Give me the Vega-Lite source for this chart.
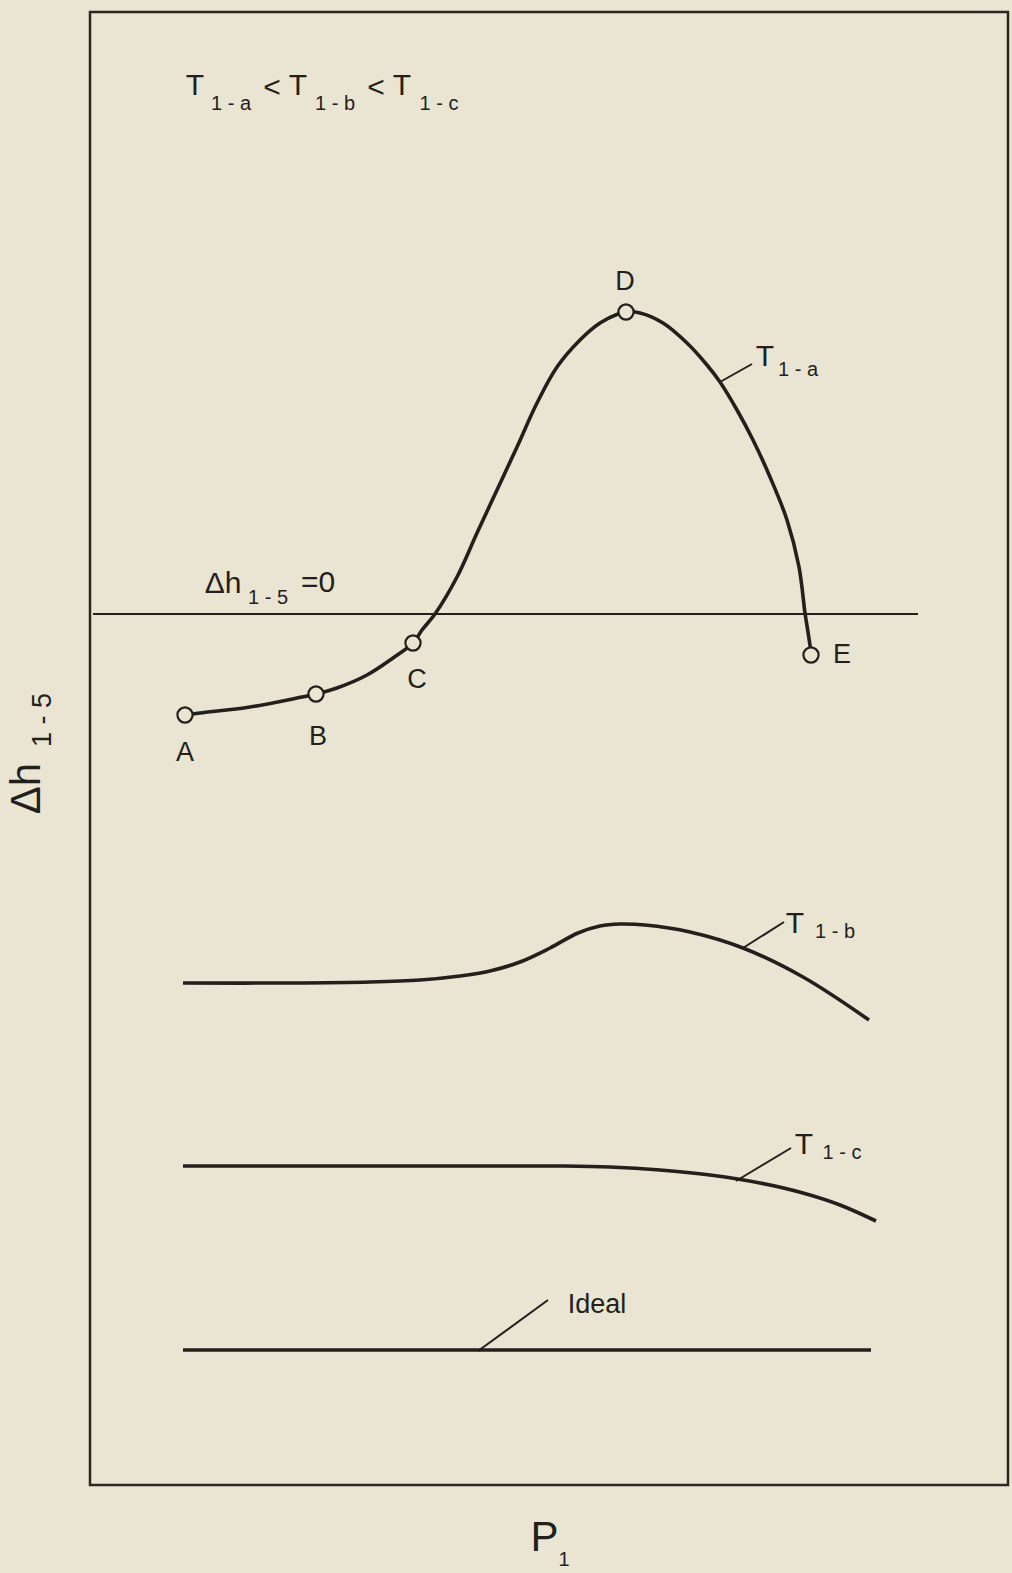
{
  "$schema": "https://vega.github.io/schema/vega-lite/v6.json",
  "width": 918,
  "height": 1473,
  "autosize": {"type": "none"},
  "padding": {"left": 90, "top": 12, "right": 4, "bottom": 88},
  "background": "#eae4d2",
  "config": {
    "view": {"stroke": "#2a2622", "strokeWidth": 2.5},
    "font": "Liberation Sans",
    "axis": {"domain": false, "ticks": false, "labels": false, "grid": false, "titleFont": "Liberation Sans", "titleFontWeight": "normal", "titleColor": "#231f1c", "titleFontSize": 42}
  },
  "datasets": {
    "curves": [
      {"series": "T1-a", "x": 95, "y": -101},
      {"series": "T1-a", "x": 110, "y": -99},
      {"series": "T1-a", "x": 160, "y": -93},
      {"series": "T1-a", "x": 207, "y": -84},
      {"series": "T1-a", "x": 226, "y": -80},
      {"series": "T1-a", "x": 247, "y": -74},
      {"series": "T1-a", "x": 277, "y": -61},
      {"series": "T1-a", "x": 303, "y": -44},
      {"series": "T1-a", "x": 323, "y": -29},
      {"series": "T1-a", "x": 332, "y": -16},
      {"series": "T1-a", "x": 345, "y": 0},
      {"series": "T1-a", "x": 367, "y": 37},
      {"series": "T1-a", "x": 387, "y": 81},
      {"series": "T1-a", "x": 407, "y": 124},
      {"series": "T1-a", "x": 427, "y": 167},
      {"series": "T1-a", "x": 447, "y": 211},
      {"series": "T1-a", "x": 467, "y": 247},
      {"series": "T1-a", "x": 490, "y": 274},
      {"series": "T1-a", "x": 510, "y": 291},
      {"series": "T1-a", "x": 528, "y": 300},
      {"series": "T1-a", "x": 536, "y": 302},
      {"series": "T1-a", "x": 550, "y": 301},
      {"series": "T1-a", "x": 573, "y": 291},
      {"series": "T1-a", "x": 597, "y": 271},
      {"series": "T1-a", "x": 617, "y": 249},
      {"series": "T1-a", "x": 630, "y": 232},
      {"series": "T1-a", "x": 647, "y": 204},
      {"series": "T1-a", "x": 663, "y": 174},
      {"series": "T1-a", "x": 680, "y": 137},
      {"series": "T1-a", "x": 697, "y": 94},
      {"series": "T1-a", "x": 709, "y": 47},
      {"series": "T1-a", "x": 715, "y": 1},
      {"series": "T1-a", "x": 718, "y": -18},
      {"series": "T1-a", "x": 721, "y": -38},
      {"series": "T1-b", "x": 93, "y": -369},
      {"series": "T1-b", "x": 200, "y": -369},
      {"series": "T1-b", "x": 280, "y": -368},
      {"series": "T1-b", "x": 330, "y": -366},
      {"series": "T1-b", "x": 370, "y": -362},
      {"series": "T1-b", "x": 400, "y": -357},
      {"series": "T1-b", "x": 430, "y": -348},
      {"series": "T1-b", "x": 460, "y": -334},
      {"series": "T1-b", "x": 488, "y": -319},
      {"series": "T1-b", "x": 510, "y": -312},
      {"series": "T1-b", "x": 530, "y": -310},
      {"series": "T1-b", "x": 555, "y": -311},
      {"series": "T1-b", "x": 600, "y": -318},
      {"series": "T1-b", "x": 653, "y": -334},
      {"series": "T1-b", "x": 713, "y": -363},
      {"series": "T1-b", "x": 779, "y": -406},
      {"series": "T1-c", "x": 93, "y": -552},
      {"series": "T1-c", "x": 300, "y": -552},
      {"series": "T1-c", "x": 474, "y": -552},
      {"series": "T1-c", "x": 520, "y": -553},
      {"series": "T1-c", "x": 570, "y": -556},
      {"series": "T1-c", "x": 620, "y": -561},
      {"series": "T1-c", "x": 670, "y": -569},
      {"series": "T1-c", "x": 713, "y": -579},
      {"series": "T1-c", "x": 750, "y": -591},
      {"series": "T1-c", "x": 786, "y": -607},
      {"series": "Ideal", "x": 93, "y": -736},
      {"series": "Ideal", "x": 781, "y": -736}
    ],
    "reference": [{"name": "Δh1-5 = 0", "x": 3, "x2": 828, "y": 0}],
    "leaders": [
      {"series": "T1-a", "x": 630, "y": 232, "x2": 662, "y2": 250},
      {"series": "T1-b", "x": 653, "y": -334, "x2": 694, "y2": -308},
      {"series": "T1-c", "x": 646, "y": -567, "x2": 701, "y2": -534},
      {"series": "Ideal", "x": 388, "y": -737, "x2": 458, "y2": -686}
    ],
    "points": [
      {"label": "A", "x": 95, "y": -101},
      {"label": "B", "x": 226, "y": -80},
      {"label": "C", "x": 323, "y": -29},
      {"label": "D", "x": 536, "y": 302},
      {"label": "E", "x": 721, "y": -41}
    ],
    "pointLabels": [
      {"text": "A", "x": 95, "y": -139},
      {"text": "B", "x": 228, "y": -123},
      {"text": "C", "x": 327, "y": -66},
      {"text": "D", "x": 535, "y": 332},
      {"text": "E", "x": 752, "y": -41},
      {"text": "Ideal", "x": 507, "y": -691}
    ],
    "bigText": [
      {"text": "T", "x": 675, "y": 257},
      {"text": "T", "x": 705, "y": -310},
      {"text": "T", "x": 714, "y": -531},
      {"text": "Δh", "x": 133, "y": 30},
      {"text": "=0", "x": 228, "y": 31},
      {"text": "T", "x": 105, "y": 528},
      {"text": "<", "x": 182, "y": 526},
      {"text": "T", "x": 208, "y": 528},
      {"text": "<", "x": 286, "y": 526},
      {"text": "T", "x": 312, "y": 528}
    ],
    "subText": [
      {"text": "1 - a", "x": 708, "y": 244},
      {"text": "1 - b", "x": 745, "y": -318},
      {"text": "1 - c", "x": 752, "y": -539},
      {"text": "1 - 5", "x": 178, "y": 16},
      {"text": "1 - a", "x": 141, "y": 510},
      {"text": "1 - b", "x": 245, "y": 510},
      {"text": "1 - c", "x": 349, "y": 510},
      {"text": "1", "x": 474, "y": -946}
    ],
    "axisSub": [{"text": "1 - 5", "x": -47, "y": -106}]
  },
  "layer": [
    {
      "data": {"name": "reference"},
      "mark": {"type": "rule", "color": "#231f1c", "strokeWidth": 2},
      "encoding": {
        "x": {"field": "x", "type": "quantitative", "scale": {"domain": [0, 918], "nice": false, "zero": false}, "axis": {"title": "P", "titleX": 454, "titleY": 52, "titleAlign": "center", "titleBaseline": "middle"}},
        "x2": {"field": "x2"},
        "y": {"field": "y", "type": "quantitative", "scale": {"domain": [-871, 602], "nice": false, "zero": false}, "axis": {"title": "Δh", "titleAngle": 270, "titleX": -64, "titleY": 776, "titleAlign": "center", "titleBaseline": "middle"}}
      }
    },
    {
      "data": {"name": "curves"},
      "mark": {"type": "line", "color": "#231f1c", "strokeWidth": 3.6, "interpolate": "catmull-rom"},
      "encoding": {
        "x": {"field": "x", "type": "quantitative"},
        "y": {"field": "y", "type": "quantitative"},
        "detail": {"field": "series"}
      }
    },
    {
      "data": {"name": "leaders"},
      "mark": {"type": "rule", "color": "#231f1c", "strokeWidth": 2},
      "encoding": {
        "x": {"field": "x", "type": "quantitative"},
        "y": {"field": "y", "type": "quantitative"},
        "x2": {"field": "x2"},
        "y2": {"field": "y2"}
      }
    },
    {
      "data": {"name": "points"},
      "mark": {"type": "point", "shape": "circle", "filled": false, "fill": "#eae4d2", "fillOpacity": 1, "stroke": "#231f1c", "strokeWidth": 2.2, "size": 230, "opacity": 1},
      "encoding": {
        "x": {"field": "x", "type": "quantitative"},
        "y": {"field": "y", "type": "quantitative"}
      }
    },
    {
      "data": {"name": "pointLabels"},
      "mark": {"type": "text", "font": "Liberation Sans", "fontSize": 27, "color": "#231f1c", "align": "center", "baseline": "middle"},
      "encoding": {
        "x": {"field": "x", "type": "quantitative"},
        "y": {"field": "y", "type": "quantitative"},
        "text": {"field": "text"}
      }
    },
    {
      "data": {"name": "bigText"},
      "mark": {"type": "text", "font": "Liberation Sans", "fontSize": 30, "color": "#231f1c", "align": "center", "baseline": "middle"},
      "encoding": {
        "x": {"field": "x", "type": "quantitative"},
        "y": {"field": "y", "type": "quantitative"},
        "text": {"field": "text"}
      }
    },
    {
      "data": {"name": "subText"},
      "mark": {"type": "text", "font": "Liberation Sans", "fontSize": 20, "color": "#231f1c", "align": "center", "baseline": "middle"},
      "encoding": {
        "x": {"field": "x", "type": "quantitative"},
        "y": {"field": "y", "type": "quantitative"},
        "text": {"field": "text"}
      }
    },
    {
      "data": {"name": "axisSub"},
      "mark": {"type": "text", "font": "Liberation Sans", "fontSize": 27, "angle": 270, "color": "#231f1c", "align": "center", "baseline": "middle"},
      "encoding": {
        "x": {"field": "x", "type": "quantitative"},
        "y": {"field": "y", "type": "quantitative"},
        "text": {"field": "text"}
      }
    }
  ]
}
